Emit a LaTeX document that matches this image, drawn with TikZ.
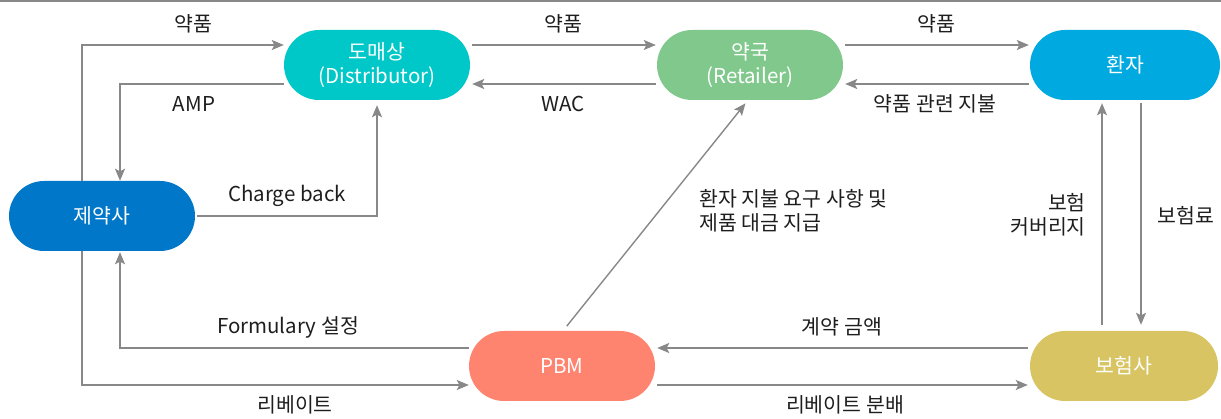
\documentclass[tikz,border=0pt]{standalone}
\usepackage{fontspec}
\setmainfont{Noto Sans CJK KR}
\usetikzlibrary{arrows.meta}
\definecolor{cdist}{RGB}{0,200,200}
\definecolor{cret}{RGB}{128,200,140}
\definecolor{cpat}{RGB}{0,170,224}
\definecolor{cph}{RGB}{0,119,200}
\definecolor{cpbm}{RGB}{255,132,112}
\definecolor{cins}{RGB}{216,196,98}
\definecolor{cline}{RGB}{136,136,136}
\definecolor{ctext}{RGB}{30,30,30}
\begin{document}
\begin{tikzpicture}[x=1pt,y=-1pt,
  pill/.style={draw=none, rounded corners=35pt, minimum width=186pt, minimum height=70pt,
    inner sep=0pt, text=white, align=center, font=\fontsize{20.5}{24}\selectfont},
  lbl/.style={text=ctext, inner sep=0pt, font=\fontsize{20.5}{24}\selectfont},
  arr/.style={draw=cline, line width=1.4pt, -{Stealth[length=12pt,width=10pt,inset=2.5pt]}}
]
\useasboundingbox (0,0) rectangle (1221,419);
\draw[draw=cline, line width=2pt] (0,1) -- (1221,1);

\node[pill, fill=cdist] (dist) at (377,65) {도매상\\(Distributor)};
\node[pill, fill=cret] (ret) at (750,65) {약국\\(Retailer)};
\node[pill, fill=cpat, minimum width=190pt] (pat) at (1125,65) {환자};
\node[pill, fill=cph] (ph) at (102,216) {제약사};
\node[pill, fill=cpbm] (pbm) at (562,366) {PBM};
\node[pill, fill=cins, minimum width=188pt] (ins) at (1124,366) {보험사};

% connectors
\draw[arr] ([xshift=-20pt]ph.north) |- ([yshift=20pt]dist.west);
\draw[arr] ([yshift=-19pt]dist.west) -| ([xshift=18pt]ph.north);
\draw[arr] ([xshift=2pt]ph.east) -| ([yshift=-5pt]dist.south);
\draw[arr] ([yshift=18pt]pbm.west) -| ([xshift=18pt,yshift=-1pt]ph.south);
\draw[arr] ([xshift=-20pt]ph.south) |- ([yshift=-19pt]pbm.west);
\draw[arr] ([xshift=2pt,yshift=20pt]dist.east) -- ([xshift=-1pt,yshift=20pt]ret.west);
\draw[arr] ([xshift=-1pt,yshift=-19pt]ret.west) -- ([xshift=2pt,yshift=-19pt]dist.east);
\draw[arr] ([xshift=2pt,yshift=20pt]ret.east) -- ([xshift=-1pt,yshift=20pt]pat.west);
\draw[arr] ([xshift=-1pt,yshift=-19pt]pat.west) -- ([xshift=2pt,yshift=-19pt]ret.east);
\draw[arr, shorten <=6pt, shorten >=4pt] ([xshift=1pt]pbm.north) -- ([xshift=-2pt]ret.south);
\draw[arr, shorten <=6pt, shorten >=3pt] ([xshift=-22pt]ins.north) -- ([xshift=-23pt]pat.south);
\draw[arr, shorten <=3pt, shorten >=6pt] ([xshift=16pt]pat.south) -- ([xshift=17pt]ins.north);
\draw[arr] ([xshift=-2pt,yshift=18pt]ins.west) -- ([xshift=2pt,yshift=18pt]pbm.east);
\draw[arr] ([xshift=2pt,yshift=-19pt]pbm.east) -- ([xshift=-2pt,yshift=-19pt]ins.west);

% labels
\node[lbl] (l1) at (193,24) {약품};
\node[lbl] (l2) at (563,24) {약품};
\node[lbl] (l3) at (936,24) {약품};
\node[lbl] (l4) at (194,104) {AMP};
\node[lbl] (l5) at (563,104) {WAC};
\node[lbl] (l6) at (935,104) {약품 관련 지불};
\node[lbl] (l7) at (287,196) {Charge back};
\node[lbl, align=left, anchor=west] (l8) at (699,211) {환자 지불 요구 사항 및\\제품 대금 지급};
\node[lbl, align=right, anchor=east] (l9) at (1086,215) {보험\\커버리지};
\node[lbl] (l10) at (1186,216) {보험료};
\node[lbl] (l11) at (288,327) {Formulary 설정};
\node[lbl] (l12) at (842,327) {계약 금액};
\node[lbl] (l13) at (295,405) {리베이트};
\node[lbl] (l14) at (845,405) {리베이트 분배};
\end{tikzpicture}
\end{document}
